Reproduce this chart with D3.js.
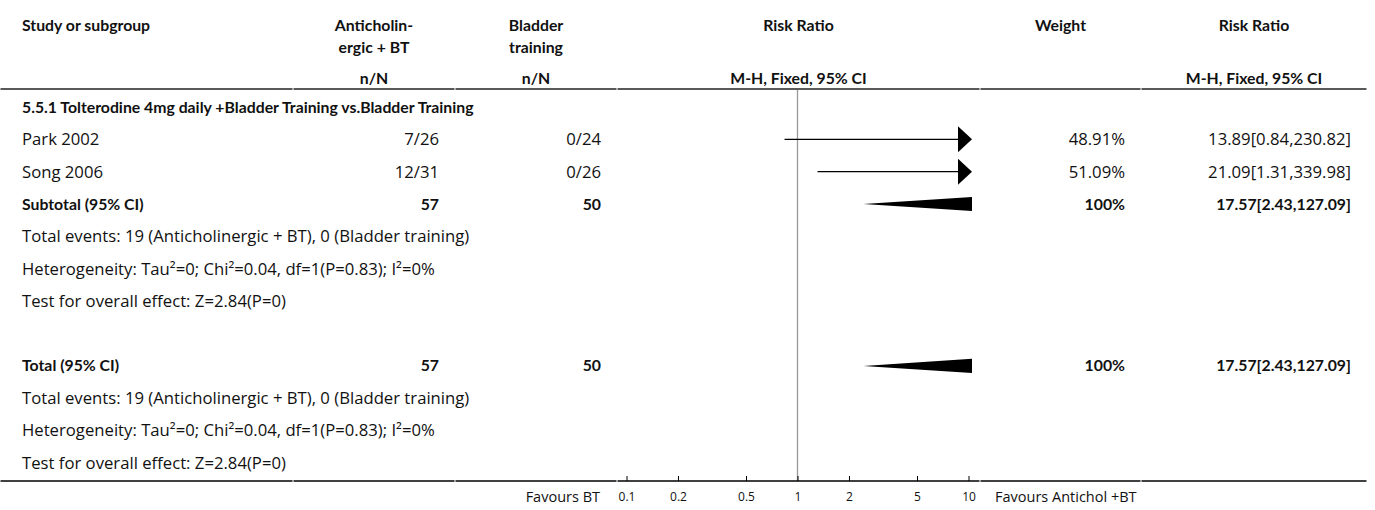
<!DOCTYPE html>
<html>
<head>
<meta charset="utf-8">
<script src="https://cdn.jsdelivr.net/npm/d3@7"></script>
<style>
  html, body { margin: 0; padding: 0; background: #fff; }
  svg text { font-family: "Open Sans", "Noto Sans", sans-serif; fill: #111; }
  svg text.b { font-family: Lato, "Open Sans", sans-serif; font-weight: 700; }
</style>
</head>
<body>
<svg id="chart" width="1375" height="510"></svg>
<script>
// Study-level data
const studies = ["Park 2002", "Song 2006"];
const expEvents = [7, 12];
const expTotal = [26, 31];
const ctrlEvents = [0, 0];
const ctrlTotal = [24, 26];
const weights = [48.91, 51.09];
const rr = [13.89, 21.09];
const rrLow = [0.84, 1.31];
const rrHigh = [230.82, 339.98];

// Pooled (subtotal and overall) estimate
const pooled = [17.57, 2.43, 127.09];   // estimate, lower, upper
const pooledWeight = 100;
const pooledExpTotal = 57;
const pooledCtrlTotal = 50;

const subgroupTitle = "5.5.1 Tolterodine 4mg daily +Bladder Training vs.Bladder Training";
const statLines = [
  "Total events: 19 (Anticholinergic + BT), 0 (Bladder training)",
  "Heterogeneity: Tau²=0; Chi²=0.04, df=1(P=0.83); I²=0%",
  "Test for overall effect: Z=2.84(P=0)"
];
const tickValues = [0.1, 0.2, 0.5, 1, 2, 5, 10];

const svg = d3.select("#chart");

// Column layout
const cols = [[0, 293], [293, 455], [455, 617], [617, 980], [980, 1141], [1141, 1367]];
const pad = 16;
const leftX = 22;
const headerLineY = 89;
const axisY = 481;
const regSize = 16.7;
const boldSize = 15.8;

const x = d3.scaleLog().domain([0.1, 10]).range([626.5, 968.5]);
const xMaxDraw = x.range()[1] + 3.5;

const rowY = i => 107 + i * 32.36;
const fmt2 = d3.format(".2f");

function txt(xp, yp, s, opts = {}) {
  return svg.append("text")
    .attr("class", opts.bold ? "b" : null)
    .attr("x", xp).attr("y", yp)
    .attr("dy", "0.35em")
    .attr("text-anchor", opts.anchor || "start")
    .attr("font-size", opts.size || (opts.bold ? boldSize : regSize))
    .text(s);
}
const colCenter = c => (cols[c][0] + cols[c][1]) / 2;
const colRight = c => cols[c][1] - pad;

// Header
txt(leftX, 25, "Study or subgroup", { bold: true });
txt(colCenter(1), 25, "Anticholin-", { bold: true, anchor: "middle" });
txt(colCenter(1), 47, "ergic + BT", { bold: true, anchor: "middle" });
txt(colCenter(1), 78, "n/N", { bold: true, anchor: "middle" });
txt(colCenter(2), 25, "Bladder", { bold: true, anchor: "middle" });
txt(colCenter(2), 47, "training", { bold: true, anchor: "middle" });
txt(colCenter(2), 78, "n/N", { bold: true, anchor: "middle" });
txt(colCenter(3), 25, "Risk Ratio", { bold: true, anchor: "middle" });
txt(colCenter(3), 78, "M-H, Fixed, 95% CI", { bold: true, anchor: "middle" });
txt(colCenter(4), 25, "Weight", { bold: true, anchor: "middle" });
txt(colCenter(5), 25, "Risk Ratio", { bold: true, anchor: "middle" });
txt(colCenter(5), 78, "M-H, Fixed, 95% CI", { bold: true, anchor: "middle" });

// Header rule, one segment per column
svg.append("g").selectAll("line").data(cols).join("line")
  .attr("x1", d => d[0] + 0.5).attr("x2", d => d[1] - 0.5)
  .attr("y1", headerLineY).attr("y2", headerLineY)
  .attr("stroke", "#222").attr("stroke-width", 1.5);

// Line of no effect
svg.append("line")
  .attr("x1", x(1)).attr("x2", x(1))
  .attr("y1", headerLineY + 1).attr("y2", axisY)
  .attr("stroke", "#999").attr("stroke-width", 1.3);

// Subgroup title
txt(leftX, rowY(0), subgroupTitle, { bold: true });

// Study rows
const mark = svg.append("g");
studies.forEach((name, i) => {
  const y = rowY(1 + i);
  txt(leftX, y, name);
  txt(colRight(1), y, `${expEvents[i]}/${expTotal[i]}`, { anchor: "end" });
  txt(colRight(2), y, `${ctrlEvents[i]}/${ctrlTotal[i]}`, { anchor: "end" });
  txt(colRight(4), y, `${fmt2(weights[i])}%`, { anchor: "end" });
  txt(colRight(5), y, `${fmt2(rr[i])}[${fmt2(rrLow[i])},${fmt2(rrHigh[i])}]`, { anchor: "end" });

  // CI line, with arrow when it runs off the scale
  const x1 = Math.max(x(rrLow[i]), x.range()[0] - 3.5);
  const over = x(rrHigh[i]) > xMaxDraw;
  const x2 = over ? xMaxDraw : x(rrHigh[i]);
  const head = 14, half = 13;
  mark.append("line")
    .attr("x1", x1).attr("x2", over ? x2 - head : x2)
    .attr("y1", y).attr("y2", y)
    .attr("stroke", "#000").attr("stroke-width", 1.2);
  if (over) {
    mark.append("path")
      .attr("d", `M${x2 - head},${y - half}L${x2},${y}L${x2 - head},${y + half}Z`)
      .attr("fill", "#000");
  }
});

// Pooled diamond, clipped at the edge of the scale
function diamond(y) {
  const [est, lo, hi] = pooled;
  const h = 9.5;
  const xl = x(lo), xe = x(est), xh = x(hi);
  const pts = [];
  if (xe <= xMaxDraw) {
    pts.push([xl, y], [xe, y - h], [Math.min(xh, xMaxDraw), y], [xe, y + h]);
  } else {
    const f = (xMaxDraw - xl) / (xe - xl);
    pts.push([xl, y], [xMaxDraw, y - h * f], [xMaxDraw, y + h * f]);
  }
  mark.append("path")
    .attr("d", "M" + pts.map(p => p.join(",")).join("L") + "Z")
    .attr("fill", "#000");
}

function totalBlock(start, label) {
  const y = rowY(start);
  txt(leftX, y, label, { bold: true });
  txt(colRight(1), y, pooledExpTotal, { bold: true, anchor: "end" });
  txt(colRight(2), y, pooledCtrlTotal, { bold: true, anchor: "end" });
  txt(colRight(4), y, `${pooledWeight}%`, { bold: true, anchor: "end" });
  txt(colRight(5), y, `${fmt2(pooled[0])}[${fmt2(pooled[1])},${fmt2(pooled[2])}]`, { bold: true, anchor: "end" });
  diamond(y);
  statLines.forEach((s, k) => txt(leftX, rowY(start + 1 + k), s));
}
totalBlock(3, "Subtotal (95% CI)");
totalBlock(8, "Total (95% CI)");

// Bottom rule and axis
svg.append("g").selectAll("line").data(cols).join("line")
  .attr("x1", d => d[0] + 0.5).attr("x2", d => d[1] - 0.5)
  .attr("y1", axisY).attr("y2", axisY)
  .attr("stroke", "#000").attr("stroke-width", 1.5);

const axis = d3.axisTop(x).tickValues(tickValues).tickSize(5).tickFormat(d3.format("~g"));
const ag = svg.append("g").attr("transform", `translate(0,${axisY})`).call(axis);
ag.select(".domain").remove();
ag.selectAll(".tick line").attr("stroke", "#000");
ag.selectAll(".tick text")
  .attr("y", 16).attr("dy", "0.35em")
  .attr("font-family", "DejaVu Sans, sans-serif")
  .attr("font-size", 12)
  .attr("fill", "#222");

txt(cols[2][1] - 17, 497, "Favours BT", { anchor: "end", size: 14.5 });
txt(cols[3][1] + 15, 497, "Favours Antichol +BT", { size: 14.5 });
</script>
</body>
</html>
